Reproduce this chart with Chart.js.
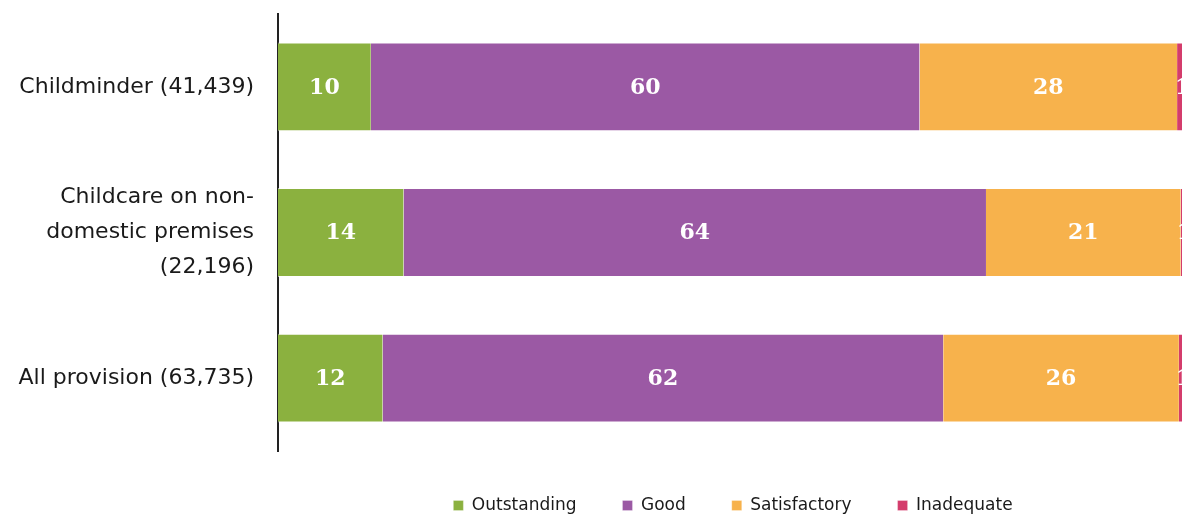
<!DOCTYPE html>
<html>
<head>
<meta charset="utf-8">
<script src="https://cdn.jsdelivr.net/npm/chart.js@4/dist/chart.umd.min.js"></script>
<style>
html,body{margin:0;padding:0;background:#fff;overflow:hidden;}
#wrap{width:1188px;height:524px;}
</style>
</head>
<body>
<div id="wrap"><canvas id="ikc" width="1188" height="524"></canvas></div>
<script>
// categories (y axis)
var categories = [
	"Childminder (41,439)",
	["Childcare on non-", "domestic premises", "(22,196)"],
	"All provision (63,735)"
];
// percentages per judgement
var outstanding  = [10.2, 13.8, 11.5];
var good         = [60.3, 64.0, 61.6];
var satisfactory = [28.3, 21.4, 25.9];
var inadequate   = [1.2, 0.8, 1.0];

var seriesNames  = ["Outstanding", "Good", "Satisfactory", "Inadequate"];
var seriesColors = ["#8bb13f", "#9b59a4", "#f7b24c", "#d43c6c"];

function build_datasets(){
	var vals=[outstanding,good,satisfactory,inadequate];
	var data=[];
	for(var i=0;i<vals.length;i++){
		data.push({
			label: seriesNames[i],
			data: vals[i],
			backgroundColor: seriesColors[i],
			borderColor: "rgba(255,255,255,0.55)",
			borderWidth: {top:1,bottom:1,left:0,right:0},
			borderSkipped: false,
			barPercentage: 0.61,
			categoryPercentage: 1.0
		});
	}
	return data;
}

// white numbers inside each segment
var valueLabels = {
	id: 'valueLabels',
	afterDatasetsDraw: function(chart){
		var c=chart.ctx;
		c.save();
		c.font="bold 22px 'DejaVu Serif', serif";
		c.fillStyle="#fff";
		c.textAlign="center";
		c.textBaseline="middle";
		chart.data.datasets.forEach(function(ds,i){
			var meta=chart.getDatasetMeta(i);
			meta.data.forEach(function(bar,j){
				var p=bar.getProps(['x','y','base'],true);
				c.fillText(Math.round(ds.data[j]), (p.x+p.base)/2, p.y+1);
			});
		});
		c.restore();
	}
};

var ctx = document.getElementById("ikc").getContext('2d');
var myChart = new Chart(ctx, {
	type: 'bar',
	data: {
		labels: categories,
		datasets: build_datasets()
	},
	options: {
		indexAxis: 'y',
		responsive: false,
		animation: false,
		layout: { padding: { top: 14, left: 0, right: 0, bottom: 0 } },
		scales: {
			x: { stacked: true, min: 0, max: 100, display: false },
			y: {
				stacked: true,
				grid: { display: false, drawTicks: false },
				border: { display: true, color: "#222", width: 2 },
				ticks: {
					color: "#1a1a1a",
					padding: 24,
					font: { family: "'DejaVu Sans', Verdana, sans-serif", size: 22, lineHeight: 1.6 }
				},
				afterFit: function(scale){
					scale.width = 278;
					scale.paddingTop = 0;
					scale.paddingBottom = 0;
				}
			}
		},
		plugins: {
			tooltip: { enabled: false },
			legend: {
				position: 'bottom',
				fullSize: false,
				labels: {
					boxWidth: 10,
					boxHeight: 10,
					padding: 46,
					color: "#1a1a1a",
					font: { family: "'DejaVu Sans', Tahoma, sans-serif", size: 17 }
				}
			}
		}
	},
	plugins: [valueLabels]
});
</script>
</body>
</html>
